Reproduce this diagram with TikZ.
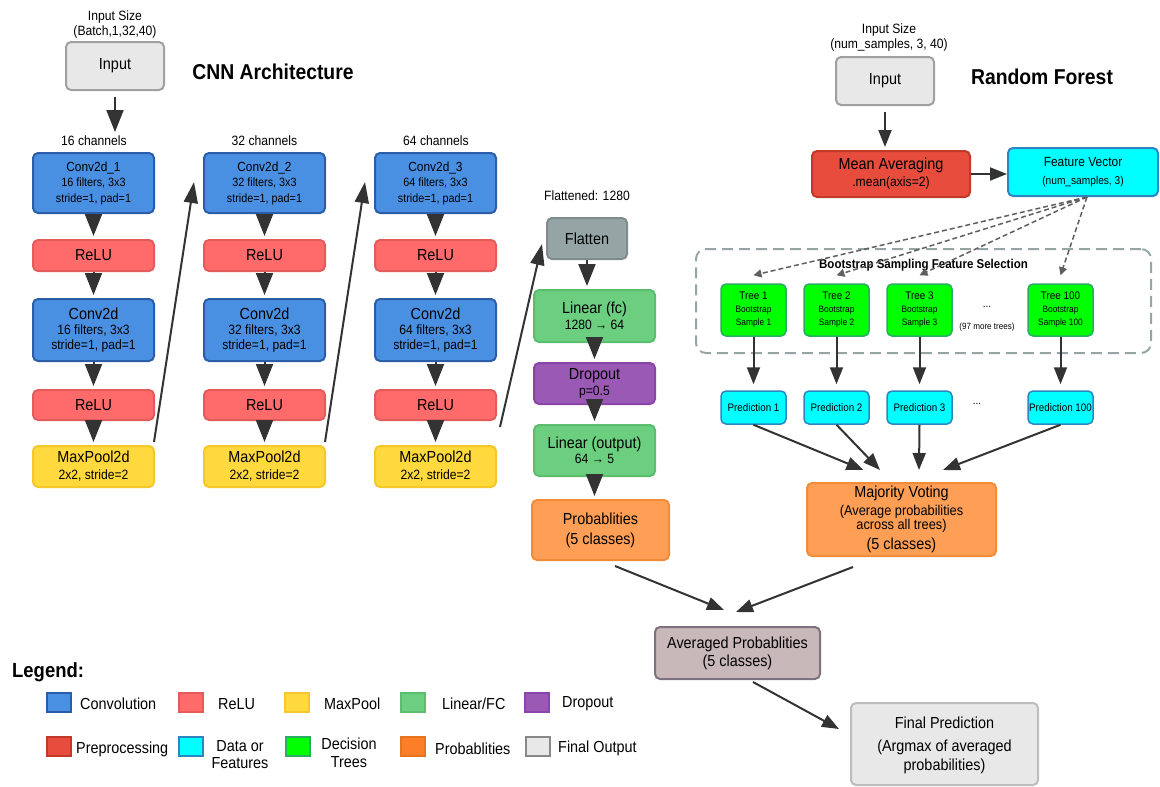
\documentclass[tikz,border=0pt]{standalone}
\usepackage{fontspec}
\setmainfont{Liberation Sans}[FakeStretch=0.9]
\usepackage{tikz}
\usetikzlibrary{arrows.meta,calc}

\definecolor{convfill}{HTML}{4A90E2}
\definecolor{convline}{HTML}{2B5DA8}
\definecolor{relufill}{HTML}{FF6B6B}
\definecolor{reluline}{HTML}{E35B5B}
\definecolor{poolfill}{HTML}{FFD93D}
\definecolor{poolline}{HTML}{F4C72A}
\definecolor{linfill}{HTML}{6BCF7F}
\definecolor{linline}{HTML}{5BBD6E}
\definecolor{dropfill}{HTML}{9B59B6}
\definecolor{dropline}{HTML}{8A45A8}
\definecolor{flatfill}{HTML}{95A5A6}
\definecolor{flatline}{HTML}{7F8C8D}
\definecolor{prepfill}{HTML}{E74C3C}
\definecolor{prepline}{HTML}{C0392B}
\definecolor{datafill}{HTML}{00FFFF}
\definecolor{dataline}{HTML}{2E86C1}
\definecolor{treefill}{HTML}{00FF00}
\definecolor{treeline}{HTML}{27AE60}
\definecolor{probfill}{HTML}{FF9F55}
\definecolor{probline}{HTML}{F28C38}
\definecolor{probkey}{HTML}{FD7E28}
\definecolor{probkeyline}{HTML}{E8731F}
\definecolor{avgfill}{HTML}{C8B8B9}
\definecolor{avgline}{HTML}{7E7280}
\definecolor{outfill}{HTML}{E8E8E8}
\definecolor{outedge}{HTML}{A0A0A0}
\definecolor{outkeyline}{HTML}{888888}
\definecolor{arrowc}{HTML}{333333}
\definecolor{dashc}{HTML}{95A5A6}
\definecolor{pickc}{HTML}{5F5F5F}

\begin{document}
\begin{tikzpicture}[x=1pt,y=1pt,yscale=-1,
  box/.style={draw, rounded corners=5pt, line width=2pt, align=center, inner sep=0pt, text=black},
  sz/.style 2 args={minimum width=#1pt, minimum height=#2pt},
  convbox/.style={box, fill=convfill, draw=convline},
  relubox/.style={box, fill=relufill, draw=reluline, font=\fontsize{16}{18}\selectfont},
  poolbox/.style={box, fill=poolfill, draw=poolline, font=\fontsize{13.5}{17}\selectfont},
  linbox/.style={box, fill=linfill, draw=linline, font=\fontsize{13.5}{15.5}\selectfont},
  dropbox/.style={box, fill=dropfill, draw=dropline, font=\fontsize{13.5}{16}\selectfont},
  flatbox/.style={box, fill=flatfill, draw=flatline, font=\fontsize{16}{18}\selectfont},
  prepbox/.style={box, fill=prepfill, draw=prepline},
  databox/.style={box, fill=datafill, draw=dataline},
  treebox/.style={box, fill=treefill, draw=treeline, line width=1.5pt, font=\fontsize{9.3}{13}\selectfont},
  probbox/.style={box, fill=probfill, draw=probline},
  avgbox/.style={box, fill=avgfill, draw=avgline, font=\fontsize{16}{18}\selectfont},
  outbox/.style={box, fill=outfill, draw=outedge},
  bagbox/.style={draw=dashc, line width=2pt, dash pattern=on 11pt off 6pt, rounded corners=10pt, inner sep=0pt},
  lab/.style={inner sep=0pt, align=center, text=black},
  ttl/.style={inner sep=0pt, font=\fontsize{21.5}{24}\selectfont\bfseries},
  flow/.style={draw=arrowc, line width=2pt, -{Triangle[width=17pt,length=22pt]}, shorten >=3pt},
  link/.style={draw=arrowc, line width=2pt, -{Triangle[width=13pt,length=17pt]}},
  jump/.style={draw=arrowc, line width=2pt, -{Triangle[width=14pt,length=21pt]}},
  pick/.style={draw=pickc, line width=1.5pt, dash pattern=on 5pt off 3pt, -{Triangle[width=8pt,length=8pt]}},
  keysq/.style={draw, line width=2pt, minimum width=24pt, minimum height=19pt, inner sep=0pt},
  keylab/.style={anchor=west, inner sep=0pt, font=\fontsize{16}{17.5}\selectfont}
]
\useasboundingbox (0,0) rectangle (1160,787);

% Text Node
\node[lab, font=\fontsize{13.5}{15}\selectfont] (insz) at (115,25) {Input Size\\(Batch,1,32,40)};
%Shape: Input
\node[outbox, sz={98}{48}, font=\fontsize{16}{18}\selectfont] (in1) at (115,66) {Input};
% Text Node
\node[ttl] (cnnttl) at (273,72) {CNN Architecture};
\node[lab, font=\fontsize{13.5}{15}\selectfont] (ch16) at (94,141) {16 channels};
\node[lab, font=\fontsize{13.5}{15}\selectfont] (ch32) at (264.5,141) {32 channels};
\node[lab, font=\fontsize{13.5}{15}\selectfont] (ch64) at (436,141) {64 channels};

%Shape: block 1
\node[convbox, sz={121}{60}, font=\fontsize{12}{15.5}\selectfont] (c11) at (93.5,183) {{\fontsize{13.2}{15}\selectfont Conv2d\_1}\\16 filters, 3x3\\stride=1, pad=1};
\node[relubox, sz={121}{31}] (r11) at (93.5,255.5) {ReLU};
\node[convbox, sz={121}{62}, font=\fontsize{13.5}{15}\selectfont] (c12) at (93.5,330) {{\fontsize{16}{18}\selectfont Conv2d}\\16 filters, 3x3\\stride=1, pad=1};
\node[relubox, sz={121}{30}] (r12) at (93.5,405) {ReLU};
\node[poolbox, sz={121}{41}] (p1) at (93.5,466.5) {{\fontsize{16}{18}\selectfont MaxPool2d}\\2x2, stride=2};

%Shape: block 2
\node[convbox, sz={121}{60}, font=\fontsize{12}{15.5}\selectfont] (c21) at (264.5,183) {{\fontsize{13.2}{15}\selectfont Conv2d\_2}\\32 filters, 3x3\\stride=1, pad=1};
\node[relubox, sz={121}{31}] (r21) at (264.5,255.5) {ReLU};
\node[convbox, sz={121}{62}, font=\fontsize{13.5}{15}\selectfont] (c22) at (264.5,330) {{\fontsize{16}{18}\selectfont Conv2d}\\32 filters, 3x3\\stride=1, pad=1};
\node[relubox, sz={121}{30}] (r22) at (264.5,405) {ReLU};
\node[poolbox, sz={121}{41}] (p2) at (264.5,466.5) {{\fontsize{16}{18}\selectfont MaxPool2d}\\2x2, stride=2};

%Shape: block 3
\node[convbox, sz={121}{60}, font=\fontsize{12}{15.5}\selectfont] (c31) at (435.5,183) {{\fontsize{13.2}{15}\selectfont Conv2d\_3}\\64 filters, 3x3\\stride=1, pad=1};
\node[relubox, sz={121}{31}] (r31) at (435.5,255.5) {ReLU};
\node[convbox, sz={121}{62}, font=\fontsize{13.5}{15}\selectfont] (c32) at (435.5,330) {{\fontsize{16}{18}\selectfont Conv2d}\\64 filters, 3x3\\stride=1, pad=1};
\node[relubox, sz={121}{30}] (r32) at (435.5,405) {ReLU};
\node[poolbox, sz={121}{41}] (p3) at (435.5,466.5) {{\fontsize{16}{18}\selectfont MaxPool2d}\\2x2, stride=2};

%Shape: head
\node[lab, font=\fontsize{13.5}{15}\selectfont] (fl) at (587,196) {Flattened: 1280};
\node[flatbox, sz={80}{41}] (flat) at (587,238.5) {Flatten};
\node[linbox, sz={121}{52}] (fc) at (594.5,316) {{\fontsize{16}{18}\selectfont Linear (fc)}\\1280 → 64};
\node[dropbox, sz={121}{41}] (drop) at (594.5,383.5) {{\fontsize{16}{18}\selectfont Dropout}\\p=0.5};
\node[linbox, sz={121}{51}] (lo) at (594.5,450.5) {{\fontsize{16}{18}\selectfont Linear (output)}\\64 → 5};
\node[probbox, sz={137}{60}, font=\fontsize{16}{20}\selectfont] (prob) at (600.5,530) {Probablities\\(5 classes)};

% Random forest
\node[lab, font=\fontsize{13.5}{15}\selectfont] (rfsz) at (889,38) {Input Size\\(num\_samples, 3, 40)};
\node[outbox, sz={98}{48}, font=\fontsize{16}{18}\selectfont] (rfin) at (885,81) {Input};
\node[ttl] (rfttl) at (1042,77) {Random Forest};
\node[prepbox, sz={158}{46}, font=\fontsize{13.5}{17}\selectfont] (mean) at (891,174) {{\fontsize{16}{18}\selectfont Mean Averaging}\\.mean(axis=2)};
\node[databox, sz={150}{48}, font=\fontsize{11.3}{18}\selectfont] (fv) at (1083,172) {{\fontsize{13.3}{15}\selectfont Feature Vector}\\(num\_samples, 3)};

%Shape: bootstrap group
\node[bagbox, sz={455}{104}] (boot) at (923.5,301) {};
\node[lab, font=\fontsize{12.8}{15}\selectfont\bfseries] (bootlab) at (923.5,265) {Bootstrap Sampling Feature Selection};
\node[treebox, sz={65}{52}] (t1) at (753.5,310) {{\fontsize{11}{13}\selectfont Tree 1}\\Bootstrap\\Sample 1};
\node[treebox, sz={65}{52}] (t2) at (836.5,310) {{\fontsize{11}{13}\selectfont Tree 2}\\Bootstrap\\Sample 2};
\node[treebox, sz={65}{52}] (t3) at (919.5,310) {{\fontsize{11}{13}\selectfont Tree 3}\\Bootstrap\\Sample 3};
\node[treebox, sz={65}{52}] (t100) at (1060.5,310) {{\fontsize{11}{13}\selectfont Tree 100}\\Bootstrap\\Sample 100};
\node[lab, font=\fontsize{11}{13}\selectfont] (tdots) at (987,307) {...};
\node[lab, font=\fontsize{9}{11}\selectfont] (tmore) at (987,327) {(97 more trees)};

%Shape: predictions
\node[databox, sz={65}{33}, line width=1.5pt, font=\fontsize{10.9}{13}\selectfont] (pr1) at (753.5,407.5) {Prediction 1};
\node[databox, sz={65}{33}, line width=1.5pt, font=\fontsize{10.9}{13}\selectfont] (pr2) at (836.5,407.5) {Prediction 2};
\node[databox, sz={65}{33}, line width=1.5pt, font=\fontsize{10.9}{13}\selectfont] (pr3) at (919.5,407.5) {Prediction 3};
\node[databox, sz={65}{33}, line width=1.5pt, font=\fontsize{10.9}{13}\selectfont] (pr100) at (1060.5,407.5) {Prediction 100};
\node[lab, font=\fontsize{11}{13}\selectfont] (pdots) at (977,404) {...};

\node[probbox, sz={189}{73}, font=\fontsize{14.2}{13}\selectfont] (mv) at (901.5,519.5) {{\fontsize{16}{18}\selectfont Majority Voting}\\[3pt](Average probabilities\\across all trees)\\[5pt]{\fontsize{16}{18}\selectfont (5 classes)}};
\node[avgbox, sz={165}{52}] (avg) at (737.5,653) {Averaged Probablities\\(5 classes)};
\node[outbox, sz={187}{82}, draw=outedge!70, font=\fontsize{16}{19}\selectfont] (final) at (944.5,744) {\rule{0pt}{14pt}Final Prediction\\[4pt](Argmax of averaged\\probabilities)};

%Straight Lines: cnn
\coordinate (in1end) at (115,132);
\draw[flow, shorten <=6pt, shorten >=0pt] (in1.south) -- (in1end);
\draw[flow] (c11.south) -- (r11.north);
\draw[flow] (r11.south) -- (c12.north);
\draw[flow] (c12.south) -- (r12.north);
\draw[flow] (r12.south) -- (p1.north);
\draw[flow] (c21.south) -- (r21.north);
\draw[flow] (r21.south) -- (c22.north);
\draw[flow] (c22.south) -- (r22.north);
\draw[flow] (r22.south) -- (p2.north);
\draw[flow] (c31.south) -- (r31.north);
\draw[flow] (r31.south) -- (c32.north);
\draw[flow] (c32.south) -- (r32.north);
\draw[flow] (r32.south) -- (p3.north);
\draw[jump] ($(p1.north east)+(-1,-3)$) -- ($(c21.west)+(-9,-1)$);
\draw[jump] ($(p2.north east)+(-1,-3)$) -- ($(c31.west)+(-9,-1)$);
\draw[jump] ($(p3.north east)+(3,-18)$) -- ($(flat.west)+(-4,5.5)$);
\draw[flow] (flat.south) -- (flat.south |- fc.north);
\draw[flow] (fc.south) -- (drop.north);
\draw[flow] (drop.south) -- (lo.north);
\draw[flow] (lo.south) -- (lo.south |- prob.north);

%Straight Lines: forest
\draw[link, shorten <=6pt, shorten >=3pt] (rfin.south) -- (rfin.south |- mean.north);
\draw[link] (mean.east) -- (mean.east -| fv.west);
\draw[pick] ($(fv.south)+(4,0)$) -- ($(t1.north)+(0,-8)$);
\draw[pick] ($(fv.south)+(4,0)$) -- ($(t2.north)+(0,-8)$);
\draw[pick] ($(fv.south)+(4,0)$) -- ($(t3.north)+(0,-8)$);
\draw[pick] ($(fv.south)+(4,0)$) -- ($(t100.north)+(0,-8)$);
\draw[link, shorten >=6pt] (t1.south) -- (pr1.north);
\draw[link, shorten >=6pt] (t2.south) -- (pr2.north);
\draw[link, shorten >=6pt] (t3.south) -- (pr3.north);
\draw[link, shorten >=6pt] (t100.south) -- (pr100.north);
\draw[link] (pr1.south) -- ($(mv.north)+(-38,-12)$);
\draw[link] (pr2.south) -- ($(mv.north)+(-21.5,-12)$);
\draw[link] (pr3.south) -- ($(mv.north)+(17.5,-12)$);
\draw[link] (pr100.south) -- ($(mv.north)+(41.5,-12)$);

%Straight Lines: merge
\draw[link] ($(prob.south)+(14.5,5)$) -- ($(avg.north)+(-13.5,-16)$);
\draw[link] ($(mv.south)+(-48.5,10)$) -- ($(avg.north)+(-1.5,-14)$);
\draw[link] ($(avg.south)+(15.5,2)$) -- ($(final.west)+(-11,-15)$);

% Legend
\node[anchor=west, inner sep=0pt, font=\fontsize{20.5}{24}\selectfont\bfseries] (lgd) at (12,672) {Legend:};
\node[keysq, fill=convfill, draw=convline] (k1) at (59,702.5) {};
\node[keylab] (k1t) at (80,704) {Convolution};
\node[keysq, fill=relufill, draw=reluline] (k2) at (190.5,702.5) {};
\node[keylab] (k2t) at (218,704) {ReLU};
\node[keysq, fill=poolfill, draw=poolline] (k3) at (296.5,702.5) {};
\node[keylab] (k3t) at (324,704) {MaxPool};
\node[keysq, fill=linfill, draw=linline] (k4) at (413,702.5) {};
\node[keylab] (k4t) at (442,704) {Linear/FC};
\node[keysq, fill=dropfill, draw=dropline] (k5) at (536.5,702.5) {};
\node[keylab] (k5t) at (562,704) {Dropout};
\node[keysq, fill=prepfill, draw=prepline] (k6) at (59,746) {};
\node[keylab] (k6t) at (76,749) {Preprocessing};
\node[keysq, fill=datafill, draw=dataline] (k7) at (190.5,746) {};
\node[lab, font=\fontsize{16}{17.5}\selectfont] (k7t) at (240,754.5) {Data or\\Features};
\node[keysq, fill=treefill, draw=treeline] (k8) at (298,746) {};
\node[lab, font=\fontsize{16}{17.5}\selectfont] (k8t) at (349,753) {Decision\\Trees};
\node[keysq, fill=probkey, draw=probkeyline] (k9) at (412.5,746) {};
\node[keylab] (k9t) at (435,749) {Probablities};
\node[keysq, fill=outfill, draw=outkeyline] (k10) at (537.5,746) {};
\node[keylab] (k10t) at (558,748) {Final Output};
\end{tikzpicture}
\end{document}
